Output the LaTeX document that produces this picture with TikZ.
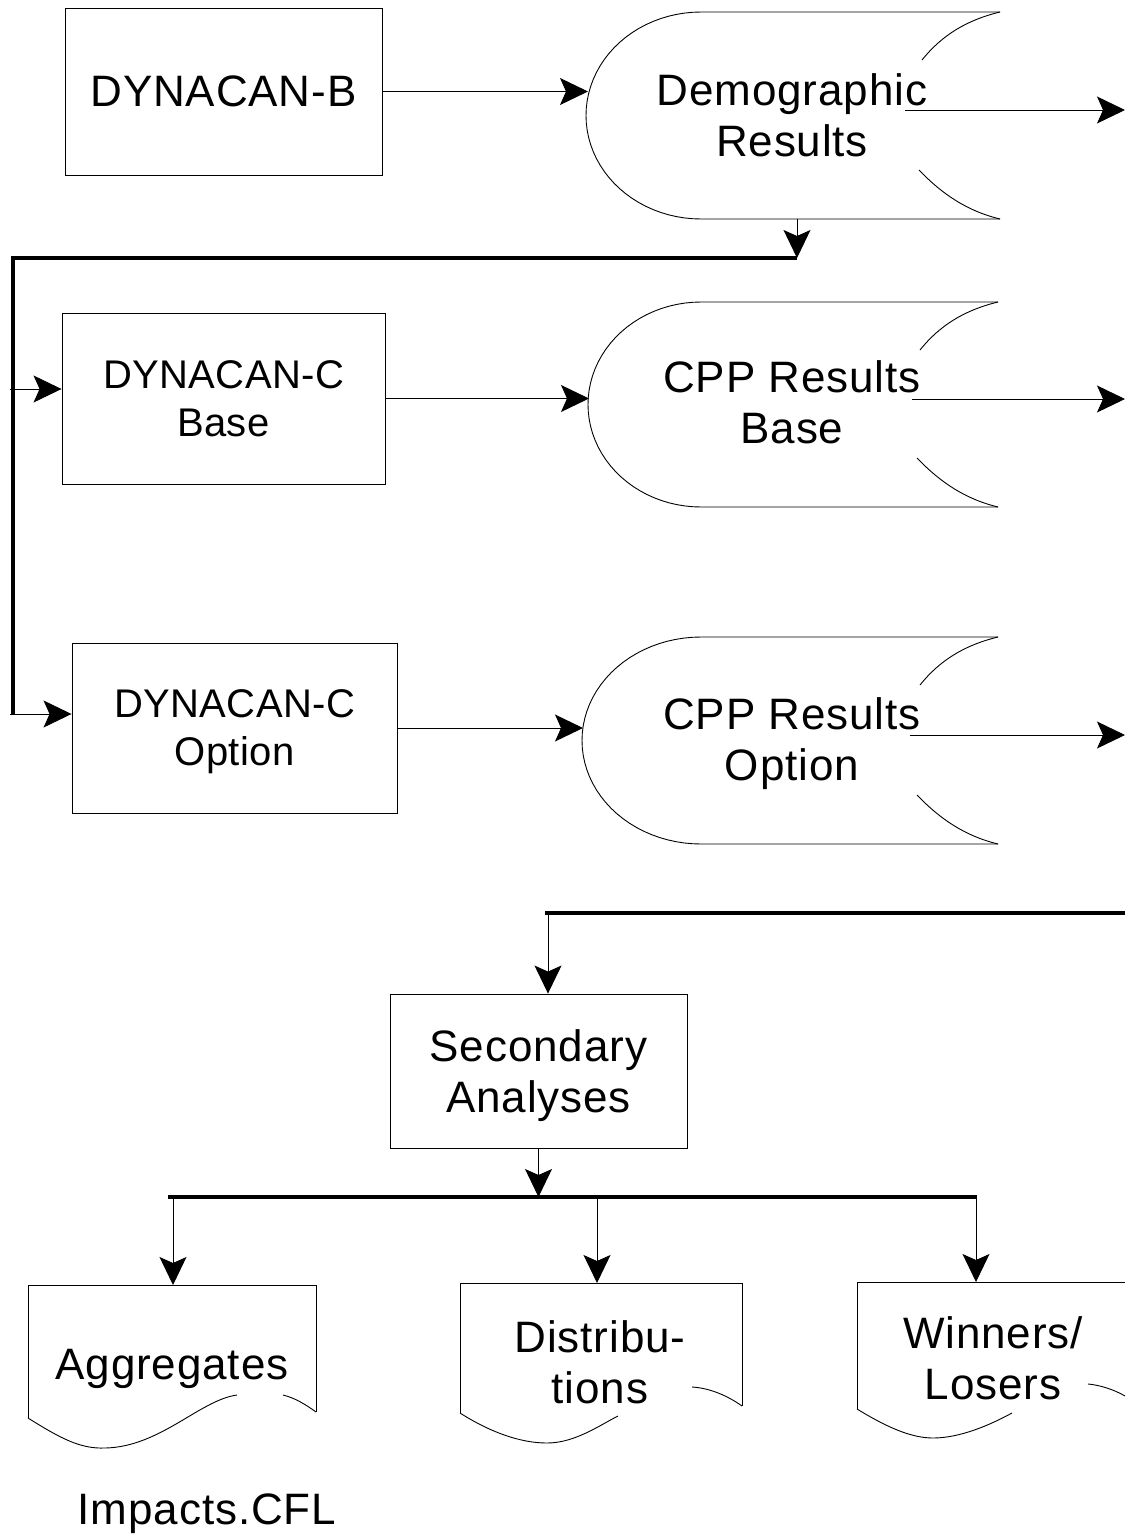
\documentclass[tikz,border=0pt]{standalone}
\usepackage{fontspec}
\setmainfont{Liberation Sans}[LetterSpace=2]
\usetikzlibrary{arrows.meta}
\newcommand\bigtxt{\fontsize{44}{51}\selectfont}
\newcommand\cboxtxt{\fontsize{40}{48}\selectfont\addfontfeatures{LetterSpace=1}}
% #1 x where top/bottom lines meet left curve, #2 left radius, #3 right x, #4 top y, #5 bottom y
\newcommand\drawstore[5]{%
  \draw[shp] (#3,#4) -- (#1,#4) -- plot[domain=0:180,samples=45,variable=\t]
    ({#1-#2*sin(\t)},{(#4+#5)/2-(#5-#4)/2*cos(\t)}) -- (#3,#5);
  \draw[shp] (#3,#4) .. controls ({#3-33},{#4+8}) and ({#3-58},{#4+23}) .. ({#3-78},{#4+48});
  \draw[shp] ({#3-81},{#5-49}) .. controls ({#3-58},{#5-25}) and ({#3-33},{#5-8}) .. (#3,#5);
}
\begin{document}
\begin{tikzpicture}[x=1pt,y=-1pt,
  shp/.style={line width=0.9pt},
  bus/.style={line width=3.2pt},
  arr/.style={line width=0.9pt,-{Stealth[length=28pt,width=27pt,inset=6pt]}},
  box/.style={draw,line width=0.9pt,inner sep=0pt,align=center,text depth=0pt,font=\bigtxt},
  cbox/.style={box,font=\cboxtxt},
  txt/.style={inner sep=0pt,align=center,text depth=0pt,font=\bigtxt}]
\fill[white] (0,0) rectangle (1125,1534);
\useasboundingbox (0,0) rectangle (1125,1534);

% ---- boxes ----
\node[box,minimum width=317pt,minimum height=167pt] (dynb) at (223.5,91.5) {DYNACAN-B};
\node[cbox,minimum width=323pt,minimum height=171pt] (cb) at (223.5,398.5) {DYNACAN-C\\Base};
\node[cbox,minimum width=325pt,minimum height=170pt] (co) at (234.5,728) {DYNACAN-C\\Option};
\node[box,minimum width=297pt,minimum height=154pt] (sec) at (538.5,1071) {Secondary\\Analyses};

% ---- storage shapes ----
\drawstore{701}{115}{1000}{12}{219}
\drawstore{701}{113}{998}{302}{507}
\drawstore{701}{119}{998}{637}{844}
\node[txt] (demo) at (792,115.5) {Demographic\\Results};
\node[txt] (cppb) at (792,402.5) {CPP Results\\Base};
\node[txt] (cppo) at (792,739) {CPP Results\\Option};

% ---- document shapes ----
\draw[shp] (28,1418) -- (28,1285) -- (316,1285) -- (316,1412);
\draw[shp] (28,1418) .. controls (60,1438) and (80,1449) .. (105,1448)
                     .. controls (160,1447) and (200,1400) .. (237,1395);
\draw[shp] (283,1395) .. controls (295,1398) and (305,1404) .. (316,1412);
\node[txt] (agg) at (172,1364) {Aggregates};

\draw[shp] (460,1413) -- (460,1283) -- (742,1283) -- (742,1406);
\draw[shp] (460,1413) .. controls (490,1432) and (520,1443) .. (547,1443)
                      .. controls (575,1443) and (600,1425) .. (618,1416);
\draw[shp] (692,1387) .. controls (710,1388) and (728,1396) .. (742,1406);
\node[txt] (dist) at (600,1362) {Distribu-\\tions};

\draw[shp] (857,1409) -- (857,1282) -- (1125,1282);
\draw[shp] (857,1409) .. controls (885,1426) and (910,1438) .. (933,1438)
                      .. controls (960,1438) and (990,1425) .. (1012,1413);
\draw[shp] (1088,1384) .. controls (1100,1385) and (1115,1390) .. (1125,1396);
\node[txt] (win) at (993,1358) {Winners/\\Losers};

\node[txt] (imp) at (207,1509) {Impacts.CFL};

% ---- coordinates ----
\coordinate (demoIn) at (588,91.5);
\coordinate (cppbIn) at (589,398.5);
\coordinate (cppoIn) at (583,728);
\coordinate (demoOutS) at (905,110);
\coordinate (demoOutE) at (1125,110);
\coordinate (cppbOutS) at (912,399);
\coordinate (cppbOutE) at (1125,399);
\coordinate (cppoOutS) at (910,735);
\coordinate (cppoOutE) at (1125,735);
\coordinate (demoBot) at (797,219);
\coordinate (busA) at (797,258);
\coordinate (busL) at (13,258);
\coordinate (busLB) at (13,715);
\coordinate (tapB) at (10,389);
\coordinate (tapO) at (10,714);
\coordinate (bus2R) at (1125,913);
\coordinate (bus2L) at (545,913);
\coordinate (drop2) at (548,913);
\coordinate (bus3C) at (538.5,1197);
\coordinate (bus3L) at (168,1197);
\coordinate (bus3R) at (977,1197);
\coordinate (brA) at (173,1197);
\coordinate (brD) at (597,1197);
\coordinate (brW) at (976,1197);
\coordinate (aggTop) at (173,1285);
\coordinate (distTop) at (597,1283);
\coordinate (winTop) at (976,1282);

% ---- connectors ----
\draw[arr] (dynb.east) -- (demoIn);
\draw[arr] (cb.east) -- (cppbIn);
\draw[arr] (co.east) -- (cppoIn);
\draw[arr] (demoOutS) -- (demoOutE);
\draw[arr] (cppbOutS) -- (cppbOutE);
\draw[arr] (cppoOutS) -- (cppoOutE);
\draw[arr] (demoBot) -- (busA);
\draw[bus] (busA) -- (busL) -- (busLB);
\draw[arr] (tapB) -- (tapB -| cb.west);
\draw[arr] (tapO) -- (tapO -| co.west);
\draw[bus] (bus2R) -- (bus2L);
\draw[arr] (drop2) -- (drop2 |- sec.north);
\draw[arr] (sec.south) -- (bus3C);
\draw[bus] (bus3L) -- (bus3R);
\draw[arr] (brA) -- (aggTop);
\draw[arr] (brD) -- (distTop);
\draw[arr] (brW) -- (winTop);
\end{tikzpicture}
\end{document}
